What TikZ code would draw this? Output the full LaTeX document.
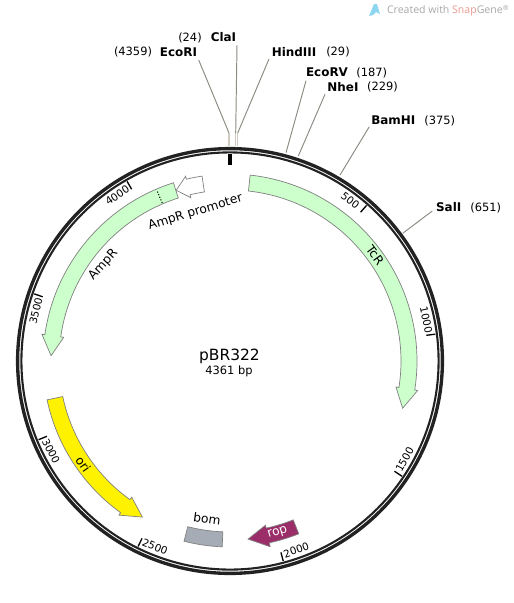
\documentclass[tikz,border=0pt]{standalone}
\usepackage{fontspec}
\setmainfont{DejaVu Sans}
\newfontfamily\markfont{Open Sans}
\definecolor{genegreen}{HTML}{CCFFCC}
\definecolor{ropred}{HTML}{9B2D69}
\definecolor{bomgrey}{HTML}{A6ACB5}
\definecolor{ringblack}{HTML}{222222}
\definecolor{leadgrey}{HTML}{8C8C84}
\definecolor{stubtan}{HTML}{CFCBBF}
\definecolor{markgrey}{HTML}{A8A8A8}
\definecolor{marksnap}{HTML}{E89890}
\definecolor{markblue}{HTML}{8FD6F0}
\tikzset{
  gene/.style={draw=gray, line width=0.4pt, fill=#1},
  lead/.style={draw=leadgrey, line width=0.55pt},
  stub/.style={draw=stubtan, line width=0.7pt},
  sitename/.style={inner sep=0pt, font=\fontsize{6.8}{8}\selectfont\bfseries},
  sitepos/.style={inner sep=0pt, font=\fontsize{6.5}{8}\selectfont},
  ticktext/.style={inner sep=0pt, font=\fontsize{5.9}{8}\selectfont},
  genetext/.style={inner sep=0pt, font=\fontsize{7}{8}\selectfont},
}
% arrow on the map: tail angle, angle of the head's base, angle of the tip
\newcommand{\genearrow}[4]{
  \draw[gene=#1] (#2:171) arc[start angle=#2, end angle=#3, radius=171]
    -- (#3:168) -- (#4:179) -- (#3:190) -- (#3:187)
    arc[start angle=#3, end angle=#2, radius=187] -- cycle;
}
\begin{document}
\begin{tikzpicture}[x=0.02cm, y=0.02cm]
  \useasboundingbox (0,-603) rectangle (514,0);
  \coordinate (center) at (230,-361);

  \begin{scope}[shift={(center)}]
    % backbone
    \draw[ringblack, line width=1.9pt] (0,0) circle (212.4);
    \draw[ringblack, line width=1.2pt] (0,0) circle (208.6);
    \draw[black, line width=1.9pt] (90:207) -- (90:196);

    % size ticks
    \foreach \tickpos/\tickrot in {500/-37.5, 1000/-78, 1500/61, 2000/19.5, 2500/-22, 3000/-63, 3500/76, 4000/34.5} {
      \pgfmathsetmacro{\tickang}{90-\tickpos/4361*360}
      \draw[black, line width=0.75pt] (\tickang:207) -- (\tickang:198);
      \node[ticktext, rotate=\tickrot] (tick\tickpos) at (\tickang+4.4:200.5) {\tickpos};
    }

    % features
    \genearrow{genegreen}{83.8}{-8.9}{-15.3}
    \genearrow{genegreen}{107.6}{171.9}{178.3}
    \genearrow{white}{98.6}{103.5}{107.5}
    \genearrow{yellow}{-168}{-125.8}{-119.3}
    \draw[gene=ropred] (-68.3:171) arc[start angle=-68.3, end angle=-77.8, radius=171]
      -- (-77.8:168) -- (-84.2:179) -- (-77.8:190) -- (-77.8:186)
      arc[start angle=-77.8, end angle=-68.3, radius=186] -- cycle;
    \draw[gene=bomgrey] (-104.3:171) arc[start angle=-104.3, end angle=-92.4, radius=171]
      -- (-92.4:186) arc[start angle=-92.4, end angle=-104.3, radius=186] -- cycle;
    \draw[black, line width=0.6pt, densely dotted] (113.2:172) -- (113.2:186);

    % cut sites on the ring
    \coordinate (ecoricut) at (-1,215);
    \coordinate (ecoribend) at (-1,228);
    \coordinate (claicut) at (5.7,215);
    \coordinate (claibend) at (5.7,228);
    \coordinate (hindcut) at (7.7,215);
    \coordinate (hindbend) at (7.7,228);
  \end{scope}

  \node[sitename] (ecori) at (178.5,-52) {EcoRI};
  \node[sitepos] (ecoripos) at (133,-52) {(4359)};
  \node[sitename] (clai) at (223.5,-37.5) {ClaI};
  \node[sitepos] (claipos) at (190,-38) {(24)};
  \node[sitename] (hind) at (294,-52) {HindIII};
  \node[sitepos] (hindpos) at (338,-52) {(29)};
  \node[sitename] (ecorv) at (327,-72.5) {EcoRV};
  \node[sitepos] (ecorvpos) at (371.7,-73) {(187)};
  \node[sitename] (nhei) at (343,-87) {NheI};
  \node[sitepos] (nheipos) at (382.5,-87) {(229)};
  \node[sitename] (bamhi) at (393.3,-120.5) {BamHI};
  \node[sitepos] (bamhipos) at (439.7,-121) {(375)};
  \node[sitename] (sali) at (448.7,-207.5) {SalI};
  \node[sitepos] (salipos) at (485.7,-208) {(651)};

  \coordinate (ecorvcut) at (286,-152.7);
  \coordinate (nheicut) at (298.3,-156);
  \coordinate (bamhicut) at (340,-175);
  \coordinate (salicut) at (402.7,-233.3);

  \draw[stub] (ecoricut) -- (ecoribend);
  \draw[stub] (claicut) -- (claibend);
  \draw[stub] (hindcut) -- (hindbend);
  \draw[lead] (ecoribend) -- (198.7,-60);
  \draw[lead] (claibend) -- (237,-45);
  \draw[lead] (hindbend) -- (269,-59);
  \draw[lead] (ecorvcut) -- (306,-80.7);
  \draw[lead] (nheicut) -- (325,-94.3);
  \draw[lead] (bamhicut) -- (369.3,-126.7);
  \draw[lead] (salicut) -- (432.3,-211);

  % feature labels
  \node[genetext, rotate=-54] (tcr) at (375,-255) {TcR};
  \node[genetext, rotate=48] (ampr) at (103.3,-265) {AmpR};
  \node[genetext, rotate=17] (promoter) at (195.5,-212.5) {AmpR promoter};
  \node[genetext, rotate=-55] (ori) at (83.3,-464) {ori};
  \node[genetext, rotate=-8] (bom) at (207,-519) {bom};
  \node[genetext, rotate=17, text=white] (rop) at (277.7,-532.7) {rop};

  % name of the plasmid
  \node[inner sep=0pt, font=\fontsize{8.8}{10}\selectfont] (name) at (229.5,-356.5) {pBR322};
  \node[inner sep=0pt, font=\fontsize{6.5}{8}\selectfont] (size) at (229,-371) {4361 bp};

  % watermark
  \fill[markblue] (369,-16) -- (374,-4) -- (377,-4) -- (380,-14) -- (376,-12) -- (373,-15) -- cycle;
  \node[inner sep=0pt, anchor=west, text=markgrey, font=\markfont\fontsize{6}{8}\selectfont] (mark) at (386.7,-10.5)
    {Created with \textcolor{marksnap}{Snap}Gene\raisebox{1.5pt}{\fontsize{4}{5}\selectfont\char"00AE}};
\end{tikzpicture}
\end{document}
